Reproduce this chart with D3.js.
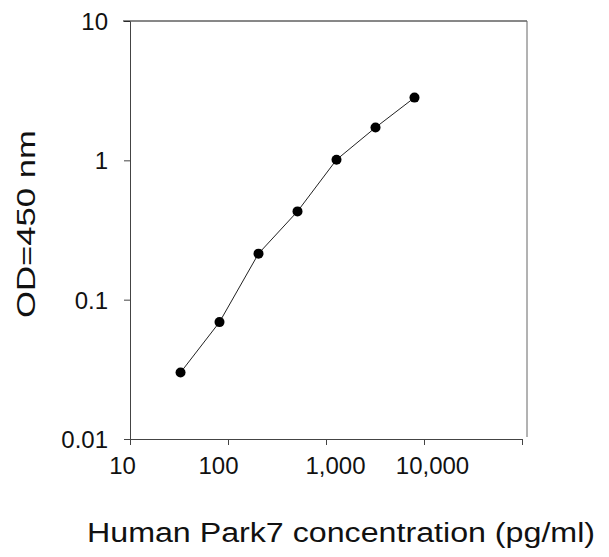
<!DOCTYPE html>
<html>
<head>
<meta charset="utf-8">
<script src="https://cdn.jsdelivr.net/npm/d3@7"></script>
<style>
    body { margin: 0; background: #fff; }
    svg text { font-family: "Liberation Sans", Arial, sans-serif; fill: #111; }
</style>
</head>
<body>
<div id="chart"></div>
<script>
// Standard curve data (2.5-fold dilution series)
const concentrations = [32.8, 81.9, 204.8, 512, 1280, 3200, 8000];
const odValues = [0.030, 0.069, 0.214, 0.43, 1.01, 1.72, 2.82];
const xTicks = [10, 100, 1000, 10000, 100000];
const xTickLabels = ["10", "100", "1,000", "10,000", ""];
const yTicks = [0.01, 0.1, 1, 10];
const yTickLabels = ["0.01", "0.1", "1", "10"];

const width = 609, height = 557;
const svg = d3.select('#chart').append('svg')
    .attr('width', width)
    .attr('height', height);

// plot frame
const plotLeft = 130, plotRight = 522, plotTop = 21, plotBottom = 439;
const frameRight = 527;

const x = d3.scaleLog().domain([10, 100000]).range([plotLeft, plotRight]);
const y = d3.scaleLog().domain([0.01, 10]).range([plotBottom, plotTop]);

const axisColor = '#444';

// y axis
const yAxis = svg.append('g')
    .attr('transform', `translate(${plotLeft},0)`)
    .call(d3.axisLeft(y).tickValues(yTicks).tickFormat((d, i) => yTickLabels[i]).tickSize(6).tickSizeOuter(0));
yAxis.select('.domain').attr('stroke', axisColor);
yAxis.selectAll('.tick line').attr('stroke', axisColor);
yAxis.selectAll('.tick text')
    .attr('x', -22)
    .attr('dy', '0.36em')
    .style('font-size', '24px');

// x axis
// the original labels sit a little off their ticks
const xLabelNudge = [-8, -10, 9, 8, 0];
const xAxis = svg.append('g')
    .attr('transform', `translate(0,${plotBottom})`)
    .call(d3.axisBottom(x).tickValues(xTicks).tickFormat((d, i) => xTickLabels[i]).tickSize(6).tickSizeOuter(0));
xAxis.select('.domain').attr('stroke', axisColor);
xAxis.selectAll('.tick line').attr('stroke', axisColor);
xAxis.selectAll('.tick text')
    .attr('y', 18)
    .attr('x', (d, i) => xLabelNudge[i])
    .style('font-size', '24px');

// top and right border
svg.append('line')
    .attr('x1', plotLeft - 7).attr('x2', frameRight)
    .attr('y1', plotTop).attr('y2', plotTop)
    .attr('stroke', '#111');
svg.append('line')
    .attr('x1', frameRight).attr('x2', frameRight)
    .attr('y1', plotTop).attr('y2', plotBottom - 2)
    .attr('stroke', '#666');

// curve
const points = concentrations.map((c, i) => ({ c: c, od: odValues[i] }));
svg.append('path')
    .datum(points)
    .attr('fill', 'none')
    .attr('stroke', '#222')
    .attr('stroke-width', 1)
    .attr('d', d3.line().x(d => x(d.c)).y(d => y(d.od)));

svg.selectAll('circle.pt')
    .data(points)
    .enter().append('circle')
    .attr('class', 'pt')
    .attr('cx', d => x(d.c))
    .attr('cy', d => y(d.od))
    .attr('r', 5)
    .attr('fill', '#000');

// axis titles (stretched like the original)
svg.append('text')
    .attr('x', 341)
    .attr('y', 542)
    .attr('text-anchor', 'middle')
    .attr('textLength', 508)
    .attr('lengthAdjust', 'spacingAndGlyphs')
    .style('font-size', '27px')
    .text('Human Park7 concentration (pg/ml)');

svg.append('text')
    .attr('transform', 'translate(35,224) rotate(-90)')
    .attr('text-anchor', 'middle')
    .attr('textLength', 188)
    .attr('lengthAdjust', 'spacingAndGlyphs')
    .style('font-size', '25px')
    .text('OD=450 nm');
</script>
</body>
</html>
